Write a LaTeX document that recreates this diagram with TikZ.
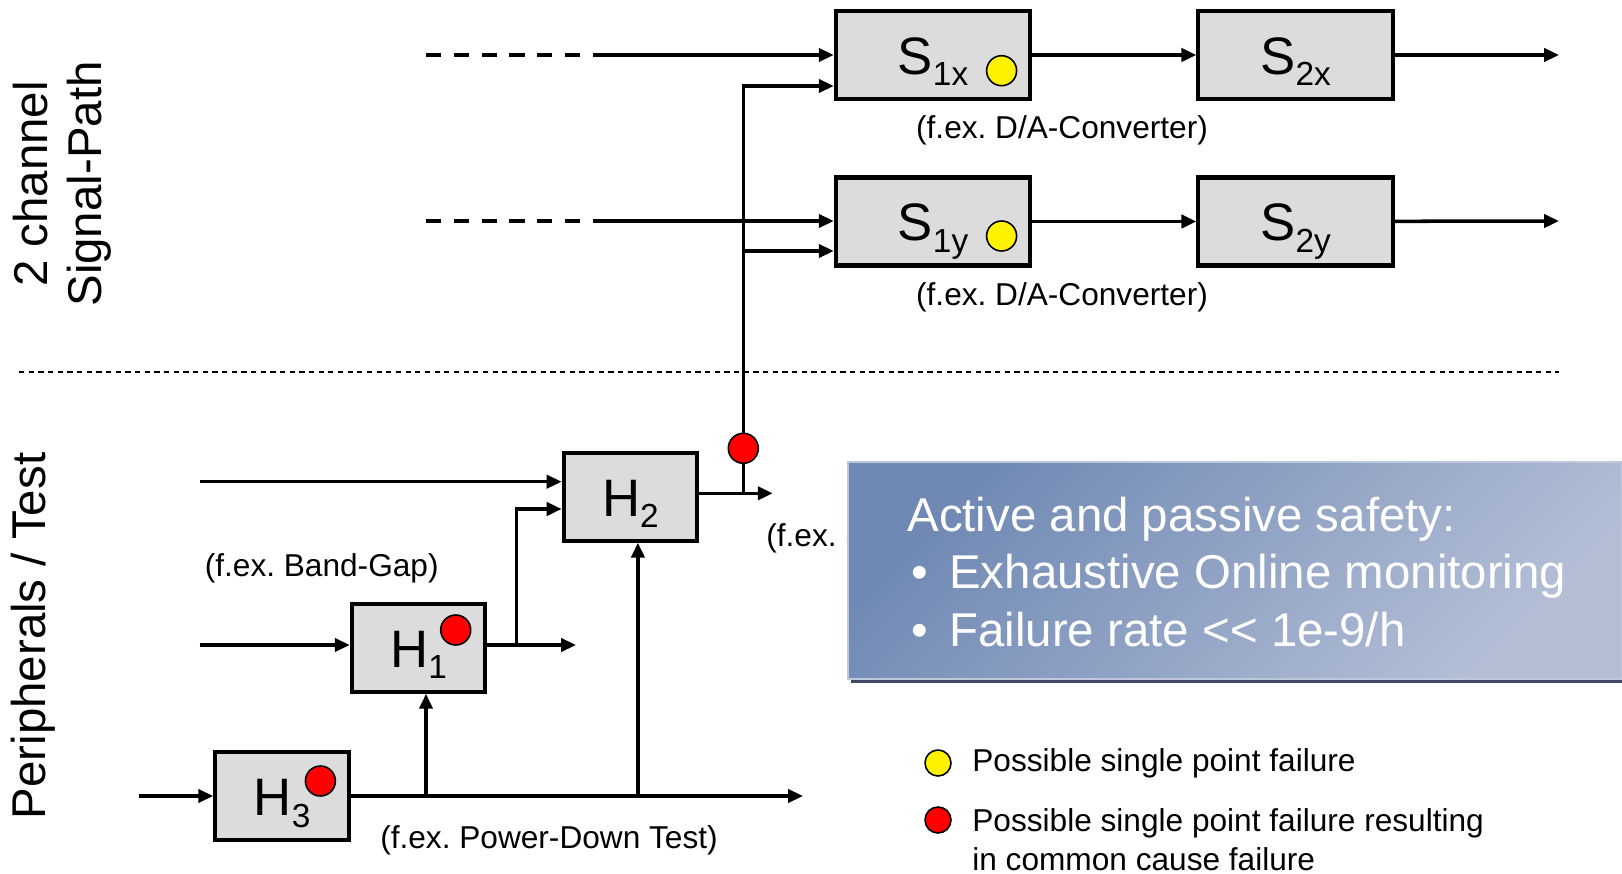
\documentclass[tikz,border=0pt]{standalone}
\usepackage{fontspec}
\setmainfont{Liberation Sans}
\usetikzlibrary{arrows.meta,positioning,shapes}
\definecolor{boxgray}{RGB}{220,220,220}
\definecolor{bluetl}{RGB}{112,137,180}
\definecolor{bluebr}{RGB}{180,191,214}
\definecolor{bluelight}{RGB}{190,200,220}
\definecolor{blueshadow}{RGB}{62,74,102}
\newcommand{\lo}[1]{\raisebox{-6.5pt}{\fontsize{19}{19}\selectfont #1}}
\frenchspacing

\begin{document}
\begin{tikzpicture}[x=0.02cm,y=-0.02cm,
  blk/.style={draw,line width=2.3pt,fill=boxgray,inner sep=0pt,minimum height=1.76cm,
    font=\fontsize{30}{30}\selectfont,text height=22pt,text depth=0pt},
  sbox/.style={blk,minimum width=3.89cm},
  hbox/.style={blk,minimum width=2.67cm},
  wire/.style={line width=2pt},
  sig/.style={wire,-{Triangle[length=8.5pt,width=7.5pt]}},
  ydot/.style={draw,circle,line width=0.9pt,fill=yellow,minimum size=0.6cm,inner sep=0pt},
  rdot/.style={ydot,fill=red},
  lbl/.style={font=\fontsize{18}{22.2}\selectfont,inner sep=0pt},
  side/.style={rotate=90,font=\fontsize{27}{31}\selectfont,inner sep=0pt},
  wtxt/.style={anchor=base west,inner sep=0pt,text=white,font=\fontsize{27}{33}\selectfont}]
\useasboundingbox (0,0) rectangle (1622,874);

% side titles and separator
\node[side,align=center] (tsig) at (62,184) {2 channel\\Signal-Path};
\node[side] (tper) at (33,636) {Peripherals / Test};
\draw[line width=1pt,dash pattern=on 3pt off 2.5pt] (19,372) -- (1559,372);

% signal path blocks
\node[sbox] (s1x) at (933,55) {S\lo{1x}};
\node[sbox] (s2x) at (1295.6,55) {S\lo{2x}};
\node[sbox] (s1y) at (933,221.5) {S\lo{1y}};
\node[sbox] (s2y) at (1295.6,221.5) {S\lo{2y}};
\node[ydot] (d1x) at (1001.6,70.7) {};
\node[ydot] (d1y) at (1001.6,236) {};
\node[lbl] (lx) at (1062,130) {(f.ex. D/A-Converter)};
\node[lbl] (ly) at (1062,297) {(f.ex. D/A-Converter)};

% peripheral blocks
\node[hbox] (h2) at (630.4,496.7) {H\lo{2}};
\node[hbox] (h1) at (418.5,647.8) {H\lo{1}};
\node[hbox] (h3) at (282,796.3) {H\lo{3}};
\node[rdot] (d1) at (455.7,630) {};
\node[rdot] (d3) at (320.4,781) {};
\node[lbl] (lbg) at (321.7,568) {(f.ex. Band-Gap)};
\node[lbl] (lpd) at (549,840) {(f.ex. Power-Down Test)};
\node[lbl,anchor=west] (ls) at (766,538) {(f.ex. S};

% connector points
\coordinate (xa) at (426,55);
\coordinate (xb) at (593,55);
\coordinate (ya) at (426,221);
\coordinate (yb) at (593,221);
\coordinate (xo) at (1559,55);
\coordinate (yo) at (1559,221);
\coordinate (vx) at (743.3,86);
\coordinate (vy) at (743.3,251);
\coordinate (ha) at (200,481.7);
\coordinate (hb) at (516.4,509);
\coordinate (h2o) at (772.7,493.3);
\coordinate (h2t) at (743.3,493.3);
\coordinate (h1a) at (199.5,645);
\coordinate (h1t) at (516.4,645);
\coordinate (h1o) at (576,645);
\coordinate (h3a) at (139,796);
\coordinate (h3t1) at (426,796);
\coordinate (h3t2) at (637.9,796);
\coordinate (h3o) at (803,796);

% signal path wiring
\draw[wire,dash pattern=on 8.7pt off 7.1pt] (xa) -- (xb);
\draw[wire,dash pattern=on 8.7pt off 7.1pt] (ya) -- (yb);
\draw[sig] (xb) -- (xb -| s1x.west);
\draw[sig] (yb) -- (yb -| s1y.west);
\draw[sig] (s1x) -- (s2x);
\draw[sig] (s1y) -- (s2y);
\draw[sig] (s2x) -- (xo);
\draw[sig] (s2y) -- (yo);
\draw[sig] (h2t) |- (vx -| s1x.west);
\draw[sig] (vy) -- (vy -| s1y.west);

% peripheral wiring
\draw[sig] (ha) -- (ha -| h2.west);
\draw[sig] (h1t) |- (hb -| h2.west);
\draw[sig] (h2.east |- h2o) -- (h2o);
\draw[sig] (h1a) -- (h1a -| h1.west);
\draw[sig] (h1.east |- h1o) -- (h1o);
\draw[sig] (h3a) -- (h3a -| h3.west);
\draw[sig] (h3.east |- h3o) -- (h3o);
\draw[sig] (h3t1) -- (h1.south -| h3t1);
\draw[sig] (h3t2) -- (h2.south -| h3t2);
\node[rdot] (d2) at (743.3,448.3) {};

% safety box
\fill[blueshadow] (851,465) rectangle (1625,683);
\shade[shading=axis,top color=bluetl,bottom color=bluebr,shading angle=45,
  draw=bluelight,line width=0.6pt] (848,462) rectangle (1622,679);
\node[wtxt] (t0) at (907,531) {Active and passive safety:};
\node[wtxt] (t1) at (911.6,588) {\makebox[21.3pt][l]{\textbullet}Exhaustive Online monitoring};
\node[wtxt] (t2) at (911.6,646) {\makebox[21.3pt][l]{\textbullet}Failure rate <\kern0pt< 1e-9/h};

% legend
\node[ydot,minimum size=0.52cm] (ky) at (938,763) {};
\node[rdot,minimum size=0.52cm] (kr) at (938,820) {};
\node[lbl,anchor=west] (kty) at (972,763) {Possible single point failure};
\node[lbl,anchor=west,align=left] (ktr) at (972,839.5) {Possible single point failure resulting\\in common cause failure};
\end{tikzpicture}
\end{document}
